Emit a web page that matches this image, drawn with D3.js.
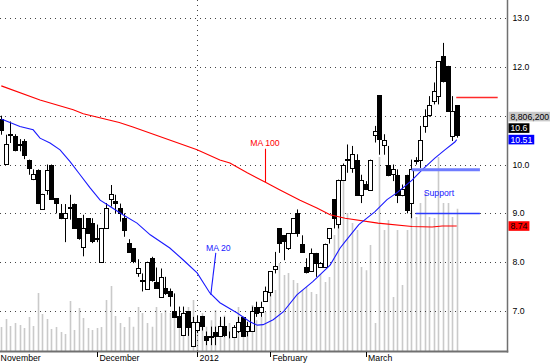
<!DOCTYPE html>
<html><head><meta charset="utf-8">
<script src="https://cdn.jsdelivr.net/npm/d3@7"></script>
<style>
html,body{margin:0;padding:0;background:#fff;}
svg{display:block;font-family:"Liberation Sans",Arial,sans-serif;}
</style></head>
<body>
<svg id="c" width="550" height="364"></svg>
<script>
// ---- data ----
const openP  = [10.93,10.00,10.62,10.58,10.43,10.49,10.10,9.70,9.89,9.10,9.48,10.00,9.31,9.00,8.90,9.12,9.20,8.90,8.32,8.90,8.80,8.50,8.00,8.70,9.29,9.25,9.10,
  8.90,8.39,8.28,7.78,7.64,7.46,8.09,7.60,7.29,7.48,7.40,7.00,6.90,6.49,7.00,6.28,6.62,6.90,6.49,6.49,6.58,6.49,6.69,6.50,
  6.48,6.60,6.88,6.58,6.58,7.09,6.99,7.19,7.38,7.85,8.69,8.55,8.28,8.59,9.00,8.38,7.91,7.81,8.19,7.91,7.91,8.49,9.29,8.79,9.69,10.10,
  9.93,10.10,9.38,9.60,9.49,10.60,11.42,10.41,10.00,9.79,9.79,9.38,9.79,9.21,10.08,10.10,10.79,11.00,11.30,11.40,12.23,12.02,10.58,11.21];
const highP  = [11.00,10.61,10.88,10.62,10.52,10.52,10.10,9.90,9.90,9.40,10.00,10.00,9.31,9.19,9.19,9.38,9.20,8.90,8.97,8.90,8.90,8.77,8.70,9.21,9.58,9.38,9.20,
  9.00,8.47,8.28,8.06,7.77,8.01,8.11,7.89,7.87,7.70,7.46,7.36,7.09,7.09,7.00,6.88,6.90,6.90,6.58,6.68,6.68,6.88,6.88,6.58,
  6.71,6.88,6.88,6.78,7.09,7.19,7.19,7.50,7.81,8.21,8.69,8.55,8.59,8.90,9.08,8.55,8.08,8.28,8.19,8.00,8.38,8.69,9.29,9.69,10.02,10.41,
  10.38,10.21,9.79,9.66,10.10,10.79,11.42,10.62,10.38,10.00,9.90,9.59,9.79,10.10,10.15,10.79,11.13,11.40,11.68,12.11,12.49,12.02,11.40,11.21];
const lowP   = [10.61,10.00,10.44,10.27,10.27,10.11,9.79,9.68,9.19,9.09,9.38,9.28,9.00,8.88,8.41,8.87,8.68,8.46,8.12,8.58,8.39,8.41,8.00,8.70,9.14,9.00,8.83,
  8.52,8.19,7.98,7.70,7.40,7.46,7.60,7.46,7.28,7.33,7.09,6.86,6.67,6.49,6.49,6.28,6.55,6.60,6.30,6.30,6.30,6.49,6.47,6.44,
  6.48,6.55,6.48,6.48,6.58,6.88,6.88,7.19,7.30,7.77,8.19,8.04,8.25,8.59,8.52,8.19,7.77,7.81,7.70,7.88,7.91,8.38,8.69,8.69,9.69,9.83,
  9.83,9.38,9.21,9.48,9.49,10.45,10.20,10.20,9.76,9.66,9.21,9.35,9.00,8.90,10.00,9.93,10.65,10.98,11.23,11.23,11.68,11.10,10.48,10.55];
const closeP = [10.70,10.41,10.60,10.30,10.41,10.20,9.93,9.80,9.21,9.40,9.89,9.31,9.21,8.90,9.00,9.10,8.70,8.49,8.70,8.60,8.43,8.48,8.70,9.11,9.40,9.20,9.00,
  8.66,8.20,8.01,7.89,7.62,8.01,7.63,7.48,7.70,7.38,7.29,6.88,6.68,6.95,6.68,6.78,6.78,6.69,6.41,6.47,6.49,6.69,6.50,6.49,
  6.68,6.78,6.49,6.69,6.99,6.97,7.09,7.40,7.81,7.92,8.38,8.42,8.59,8.90,8.59,8.21,7.81,8.18,7.98,7.99,8.38,8.69,8.90,9.69,9.99,10.12,
  10.21,9.38,9.69,9.50,10.10,10.68,10.51,10.51,9.79,9.90,9.38,9.50,9.08,9.90,10.10,10.51,11.00,11.21,11.51,12.11,11.71,11.10,11.10,10.60];
// volume in millions
const volume = [1.48,1.98,1.55,1.73,1.61,1.42,2.10,1.55,3.59,2.29,1.98,1.36,1.48,1.18,1.05,3.09,1.30,2.66,2.04,1.42,1.30,1.42,1.48,3.15,4.02,2.16,1.73,
  1.48,2.10,1.50,2.72,2.35,1.73,1.50,2.72,2.35,2.54,2.35,2.10,1.50,2.41,2.72,3.15,1.90,2.35,1.50,1.90,2.54,1.90,2.20,1.73,
  0.87,2.72,1.11,1.30,2.84,1.90,2.10,2.41,3.59,3.77,5.44,4.70,4.82,4.39,4.20,3.77,3.96,3.65,3.52,4.76,4.27,4.58,7.17,8.23,11.4,8.53,
  7.92,7.48,5.19,5.00,6.55,1.73,12.0,7.48,8.10,3.34,7.48,4.08,7.48,8.72,8.29,9.15,9.77,8.29,8.23,12.0,9.15,9.15,8.29,8.8062];
const ma20Idx = [0,4.1,7.0,8.5,10.7,12.9,15.1,17.3,19.5,21.7,23.9,26.7,29.8,32.7,37.0,39.9,43.0,45.8,48.0,51.8,54.6,56.2,57.5,59.7,61.9,64.9,68.4,72.2,74.4,75.5,78.5,82,84.7,87,90.2,92.4,95.2,97.4,99.6,100];
const ma20Val = [10.93,10.78,10.71,10.54,10.44,10.30,10.06,9.79,9.52,9.27,9.14,8.97,8.80,8.56,8.29,8.05,7.78,7.37,7.17,6.96,6.78,6.71,6.72,6.82,6.98,7.33,7.60,7.94,8.29,8.42,8.77,9.03,9.28,9.43,9.68,9.89,10.13,10.30,10.46,10.51];
const ma100Idx = [0,8.5,15.8,18,25.9,28.9,43,48,50.2,54,57.9,61.2,65.6,69.3,72.2,75.5,82.7,90.2,94.6,96.8,100];
const ma100Val = [11.61,11.32,11.12,11.04,10.86,10.77,10.30,10.09,10.03,9.83,9.64,9.48,9.27,9.11,8.97,8.90,8.80,8.73,8.72,8.74,8.74];
const priceTicks = [7,8,9,10,11,12,13];
const priceTickLabels = ["7.0","8.0","9.0","10.0","","12.0","13.0"]; // 11.0 is covered by the volume tag
const monthIdx = [-0.7,21,43,59,80];
const monthLabels = ["November","December","2012","February","March"];
const supportLevels = [9.89, 9.0];
const resistanceLevel = 11.39;
const lastVolumeLabel = "8,806,200";

// ---- layout ----
const W = 550, H = 364, plotR = 507.5, plotB = 351.5;
const svg = d3.select("#c");
const x = d3.scaleLinear().domain([0, 100]).range([1.3, 456.7]);
const y = d3.scaleLinear().domain([7, 13]).range([311, 18]);
const yv = d3.scaleLinear().domain([0, 12]).range([351, 157]);
const FS = "8.7px";
const px = v => Math.round(v) + 0.5;

svg.append("defs").append("clipPath").attr("id","plot").append("rect")
  .attr("x",0).attr("y",0).attr("width",plotR).attr("height",plotB);
const g = svg.append("g").attr("clip-path","url(#plot)");

const n = closeP.length;
const idx = d3.range(n);

// volume
g.append("g").selectAll("line").data(idx).join("line")
  .attr("x1", i => px(x(i))).attr("x2", i => px(x(i)))
  .attr("y1", yv(0)).attr("y2", i => yv(volume[i]))
  .attr("stroke", "#cacaca").attr("stroke-width", 1.6);

// gridlines
g.append("g").selectAll("line").data(priceTicks).join("line")
  .attr("x1", 0).attr("x2", plotR).attr("y1", d => px(y(d))).attr("y2", d => px(y(d)))
  .attr("stroke", "#444").attr("stroke-dasharray", "1,4");
g.append("line").attr("x1", px(x(monthIdx[2]))).attr("x2", px(x(monthIdx[2])))
  .attr("y1", 0).attr("y2", plotB).attr("stroke", "#444").attr("stroke-dasharray", "1,4");

// candles
const cg = g.append("g");
cg.selectAll("line").data(idx).join("line")
  .attr("x1", i => px(x(i))).attr("x2", i => px(x(i)))
  .attr("y1", i => y(highP[i])).attr("y2", i => y(lowP[i]))
  .attr("stroke", "#000").attr("stroke-width", 1);
cg.selectAll("rect").data(idx).join("rect")
  .attr("x", i => Math.round(x(i)) - 1.5).attr("width", 4)
  .attr("y", i => Math.round(y(Math.max(openP[i], closeP[i]))) + 0.5)
  .attr("height", i => Math.max(0, Math.round(y(Math.min(openP[i], closeP[i])) - y(Math.max(openP[i], closeP[i])))))
  .attr("fill", i => closeP[i] < openP[i] ? "#000" : "#fff")
  .attr("stroke", "#000").attr("stroke-width", 1);

// moving averages
const line = d3.line().x(d => x(d[0])).y(d => y(d[1]));
g.append("path").datum(ma100Idx.map((d,i) => [d, ma100Val[i]]))
  .attr("d", line).attr("fill","none").attr("stroke","#ff0000").attr("stroke-width",1.1);
g.append("path").datum(ma20Idx.map((d,i) => [d, ma20Val[i]]))
  .attr("d", line).attr("fill","none").attr("stroke","#1a1aff").attr("stroke-width",1.1);

// support / resistance lines
g.append("line").attr("x1", x(90.1)).attr("x2", x(105.1))
  .attr("y1", y(supportLevels[0])).attr("y2", y(supportLevels[0]))
  .attr("stroke", "#6f7cff").attr("stroke-width", 3);
g.append("line").attr("x1", x(91)).attr("x2", x(105.1))
  .attr("y1", px(y(supportLevels[1]))).attr("y2", px(y(supportLevels[1])))
  .attr("stroke", "#2a3aff").attr("stroke-width", 1.3);
g.append("line").attr("x1", x(99.9)).attr("x2", x(109))
  .attr("y1", px(y(resistanceLevel))).attr("y2", px(y(resistanceLevel)))
  .attr("stroke", "#ff2a2a").attr("stroke-width", 1.3);

// annotations
g.append("text").attr("x", x(44.95)).attr("y", y(8.23)).text("MA 20")
  .attr("fill", "#2020ff").style("font-size", FS);
g.append("line").attr("x1", x(47.1)).attr("y1", y(8.19)).attr("x2", x(46)).attr("y2", y(7.33))
  .attr("stroke", "#1a1aff").attr("stroke-width", 1.1);
g.append("text").attr("x", x(57.9)).attr("y", y(10.37)).attr("text-anchor","middle").text("MA 100")
  .attr("fill", "#ff0000").style("font-size", FS);
g.append("line").attr("x1", px(x(57.9))).attr("y1", y(10.32)).attr("x2", px(x(57.9))).attr("y2", y(9.64))
  .attr("stroke", "#ff0000").attr("stroke-width", 1.1);
g.append("text").attr("x", x(96.1)).attr("y", y(9.355)).attr("text-anchor","middle").text("Support")
  .attr("fill", "#2020ff").style("font-size", FS);

// axes frame
svg.append("line").attr("x1", plotR).attr("x2", plotR).attr("y1", 0).attr("y2", plotB + 1)
  .attr("stroke", "#707070").attr("stroke-width", 1.5);
svg.append("line").attr("x1", 0).attr("x2", plotR + 0.75).attr("y1", plotB).attr("y2", plotB)
  .attr("stroke", "#707070").attr("stroke-width", 2);

// y tick labels
svg.append("g").selectAll("text").data(priceTicks.filter((d,i) => priceTickLabels[i])).join("text")
  .attr("x", 512.5).attr("y", d => y(d)).attr("dy", "0.35em")
  .text(d => priceTickLabels[priceTicks.indexOf(d)]).style("font-size", FS).attr("fill", "#000");

// month ticks and labels
svg.append("g").selectAll("line").data(monthIdx).join("line")
  .attr("x1", d => px(x(d))).attr("x2", d => px(x(d))).attr("y1", 352).attr("y2", 357)
  .attr("stroke", "#000");
svg.append("g").selectAll("text").data(monthIdx).join("text")
  .attr("x", d => Math.max(0, x(d) + 2.5)).attr("y", 360.5)
  .text((d,i) => monthLabels[i]).style("font-size", FS).attr("fill", "#000");

// right value labels
function tag(text, cy, bg, fg, extendRight) {
  const gg = svg.append("g");
  const r = gg.append("rect").attr("fill", bg);
  const t = gg.append("text").attr("x", 510.5).attr("y", cy).attr("dy", "0.35em")
    .text(text).style("font-size", FS).attr("fill", fg);
  const w = t.node().getComputedTextLength();
  r.attr("x", 508.5).attr("y", cy - 4.8).attr("height", 9.6)
   .attr("width", extendRight ? W - 508.5 : w + 4);
}
const c20 = y(ma20Val[ma20Val.length - 1]);
tag(d3.format(".2f")(ma20Val[ma20Val.length - 1]), c20, "#0000ff", "#fff");
const cClose = c20 - 11.5;
tag(String(closeP[n - 1]), cClose, "#000", "#fff");
tag(lastVolumeLabel, cClose - 11.5, "#c8c8c8", "#000", true);
tag(d3.format(".2f")(ma100Val[ma100Val.length - 1]), y(ma100Val[ma100Val.length - 1]), "#ff0000", "#000");
</script>
</body></html>
